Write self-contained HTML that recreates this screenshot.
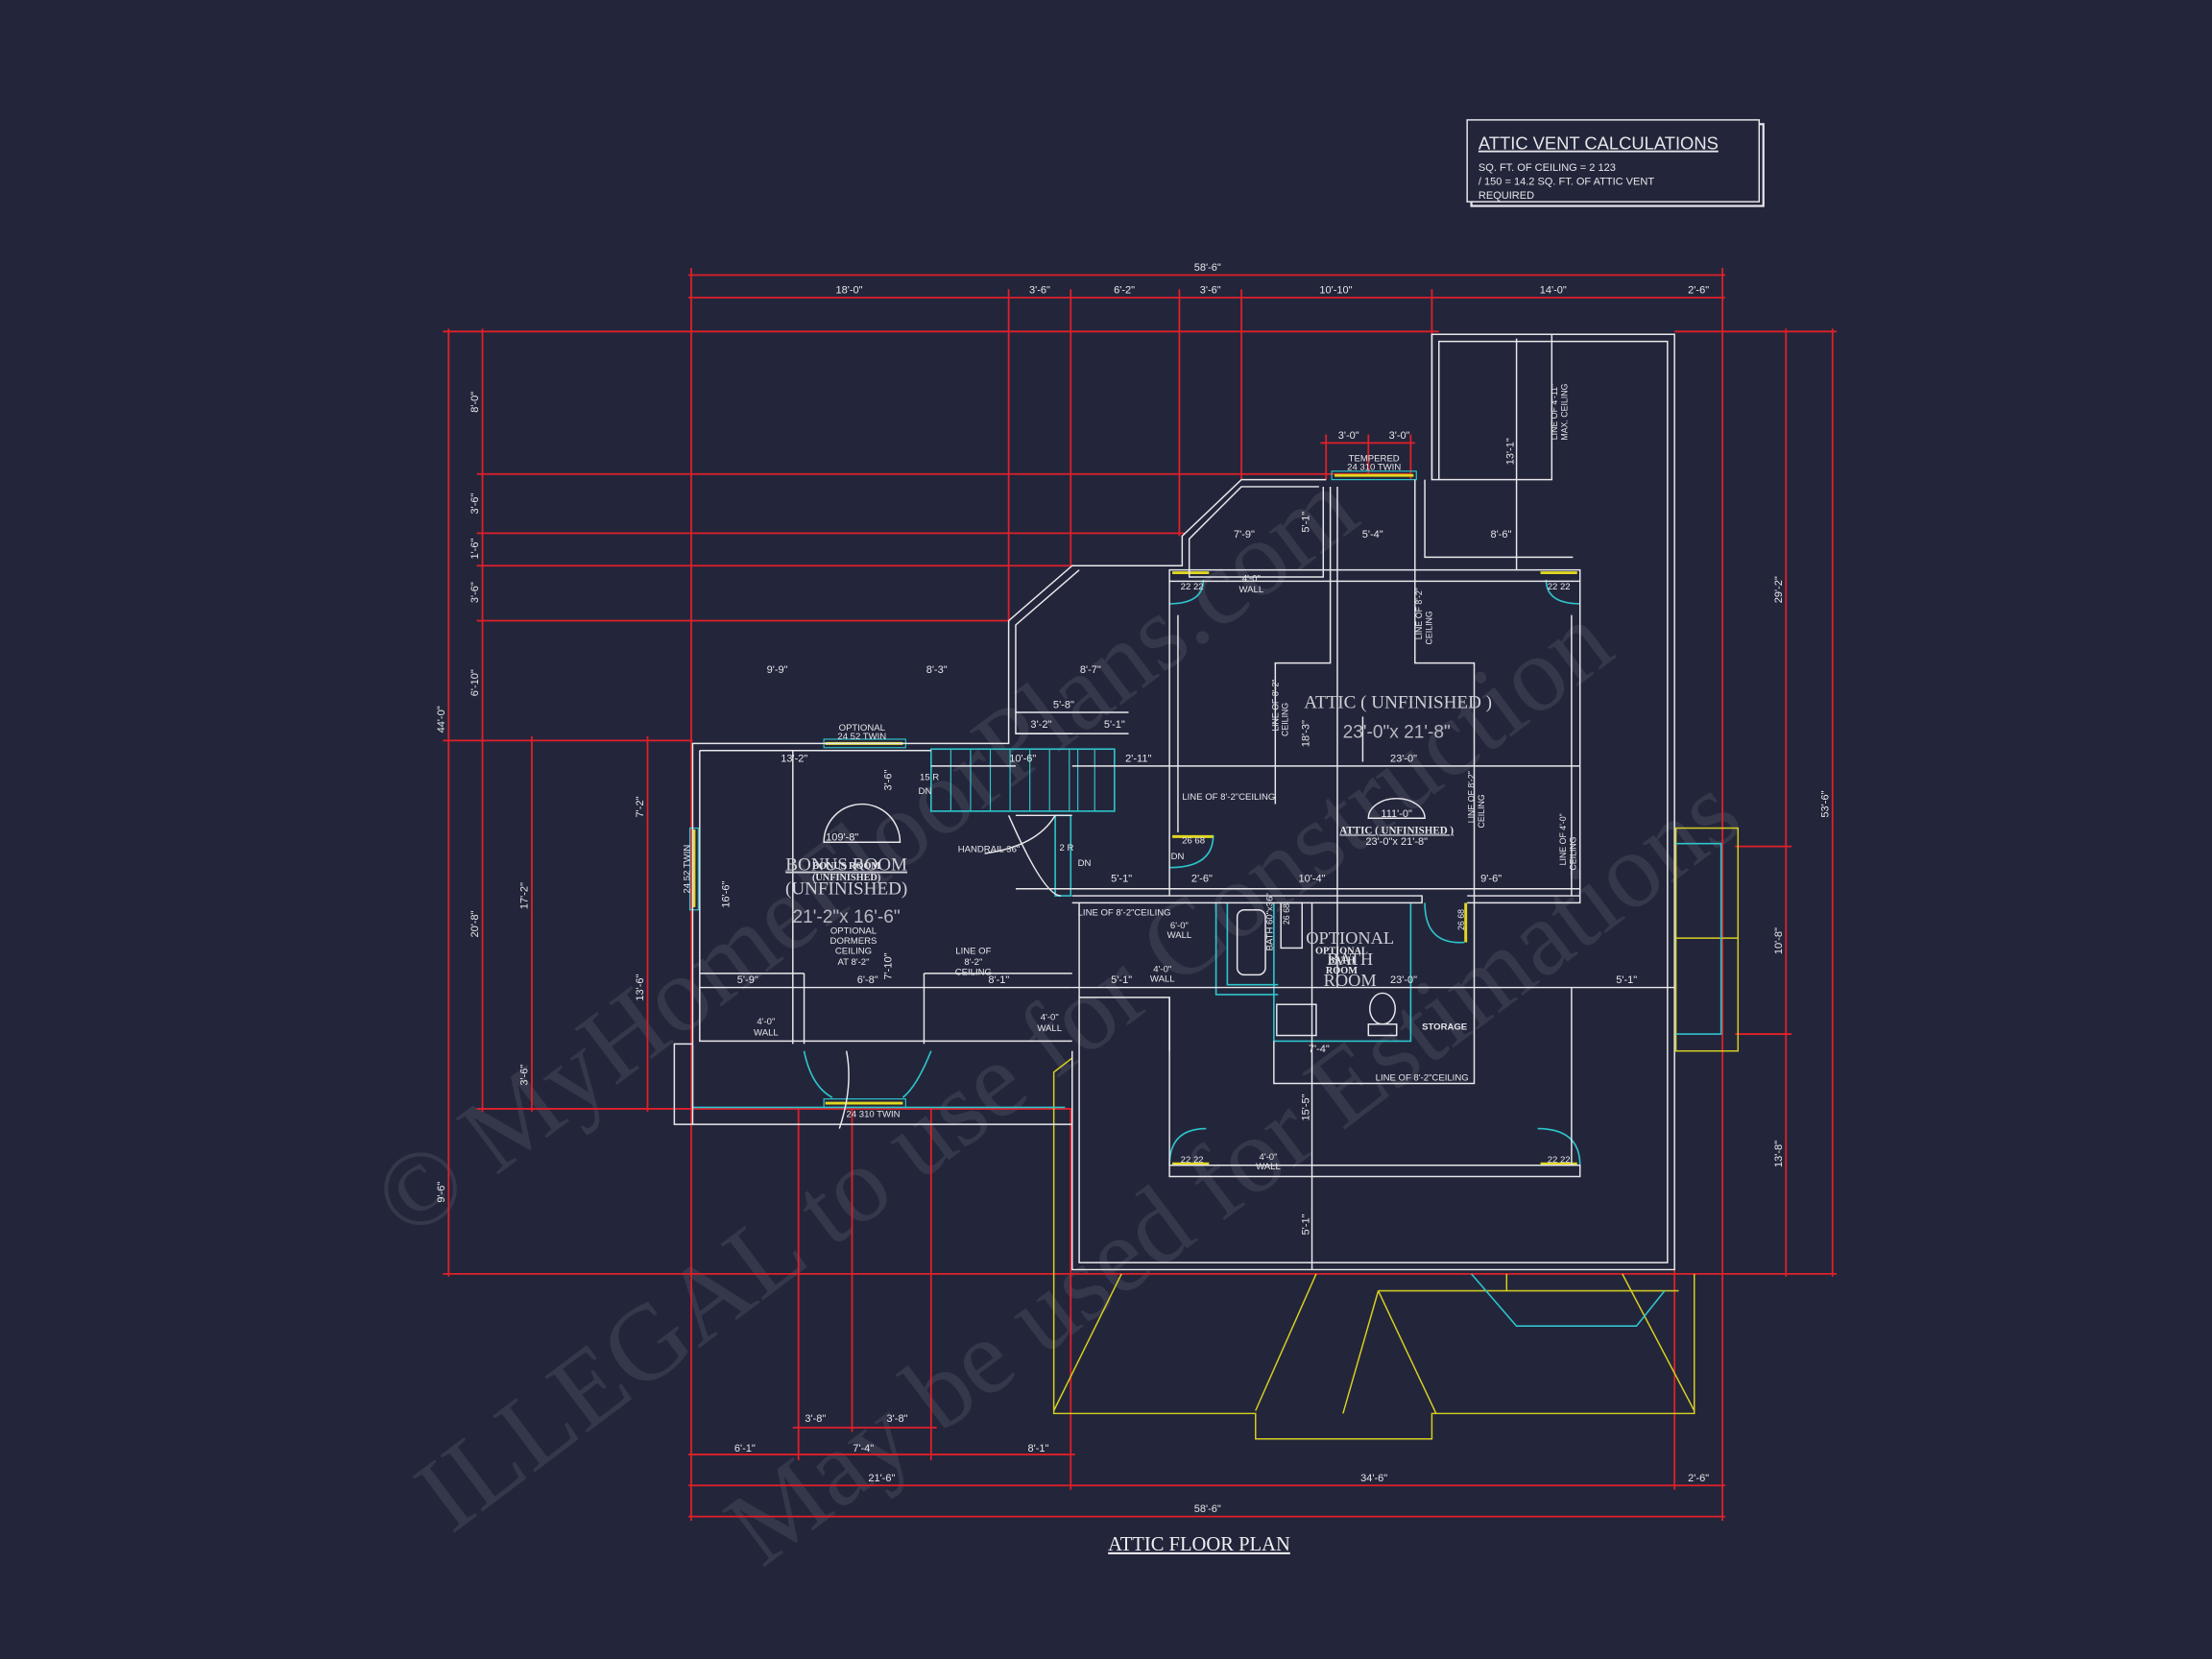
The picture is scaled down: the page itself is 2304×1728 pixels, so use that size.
<!DOCTYPE html>
<html><head><meta charset="utf-8"><style>
html,body{margin:0;padding:0;background:#23263a;}
svg{display:block}
text{font-family:"Liberation Sans",sans-serif;fill:#e6e6ea}
text.wm{font-family:"Liberation Serif",serif;fill:#ffffff}
</style></head><body>
<svg width="2304" height="1728" viewBox="0 0 1568 1176" xmlns="http://www.w3.org/2000/svg">
<rect width="1568" height="1176" fill="#23263a"/>
<!-- watermark -->
<g opacity="0.08">
<text class="wm" x="290" y="880" font-size="76" transform="rotate(-37 290 880)">© MyHomeFloorPlans.com</text>
<text class="wm" x="320" y="1088" font-size="76" transform="rotate(-37 320 1088)">ILLEGAL to use for Construction</text>
<text class="wm" x="540" y="1112" font-size="76" transform="rotate(-37 540 1112)">May be used for Estimations</text>
</g>
<!-- RED dimension lines -->
<g stroke="#e0202a" stroke-width="1.2" fill="none">
<line x1="488" y1="195" x2="1223" y2="195"/>
<line x1="488" y1="211" x2="1223" y2="211"/>
<line x1="490" y1="190" x2="490" y2="1078"/>
<line x1="1221" y1="190" x2="1221" y2="1078"/>
<line x1="715" y1="205" x2="715" y2="440"/>
<line x1="759" y1="205" x2="759" y2="401"/>
<line x1="836" y1="205" x2="836" y2="380"/>
<line x1="880" y1="205" x2="880" y2="340"/>
<line x1="1015" y1="205" x2="1015" y2="237"/>
<line x1="318" y1="233" x2="318" y2="905"/>
<line x1="342" y1="233" x2="342" y2="788"/>
<line x1="314" y1="235" x2="1020" y2="235"/>
<line x1="338" y1="336" x2="1000" y2="336"/>
<line x1="338" y1="378" x2="840" y2="378"/>
<line x1="338" y1="401" x2="760" y2="401"/>
<line x1="338" y1="440" x2="715" y2="440"/>
<line x1="314" y1="525" x2="491" y2="525"/>
<line x1="338" y1="786" x2="760" y2="786"/>
<line x1="314" y1="903" x2="1302" y2="903"/>
<line x1="377" y1="522" x2="377" y2="788"/>
<line x1="459" y1="522" x2="459" y2="788"/>
<line x1="1266" y1="233" x2="1266" y2="905"/>
<line x1="1299" y1="233" x2="1299" y2="905"/>
<line x1="1187" y1="235" x2="1302" y2="235"/>
<line x1="1230" y1="600" x2="1270" y2="600"/>
<line x1="1230" y1="733" x2="1270" y2="733"/>
<line x1="566" y1="786" x2="566" y2="1035"/>
<line x1="604" y1="786" x2="604" y2="1015"/>
<line x1="660" y1="786" x2="660" y2="1035"/>
<line x1="759" y1="786" x2="759" y2="1056"/>
<line x1="1187" y1="900" x2="1187" y2="1056"/>
<line x1="562" y1="1012" x2="664" y2="1012"/>
<line x1="488" y1="1031" x2="762" y2="1031"/>
<line x1="488" y1="1053" x2="1223" y2="1053"/>
<line x1="488" y1="1075" x2="1223" y2="1075"/>
<line x1="936" y1="314" x2="1003" y2="314"/>
<line x1="940" y1="308" x2="940" y2="340"/>
<line x1="1000" y1="308" x2="1000" y2="340"/>
<line x1="970" y1="308" x2="970" y2="336"/>
</g>
<!-- red dimension text -->
<g font-size="7.5">
<text x="856" y="192" text-anchor="middle">58'-6"</text>
<text x="602" y="208" text-anchor="middle">18'-0"</text>
<text x="737" y="208" text-anchor="middle">3'-6"</text>
<text x="797" y="208" text-anchor="middle">6'-2"</text>
<text x="858" y="208" text-anchor="middle">3'-6"</text>
<text x="947" y="208" text-anchor="middle">10'-10"</text>
<text x="1101" y="208" text-anchor="middle">14'-0"</text>
<text x="1204" y="208" text-anchor="middle">2'-6"</text>
<text x="956" y="311" text-anchor="middle">3'-0"</text>
<text x="992" y="311" text-anchor="middle">3'-0"</text>
<text x="578" y="1008" text-anchor="middle">3'-8"</text>
<text x="636" y="1008" text-anchor="middle">3'-8"</text>
<text x="528" y="1029" text-anchor="middle">6'-1"</text>
<text x="612" y="1029" text-anchor="middle">7'-4"</text>
<text x="736" y="1029" text-anchor="middle">8'-1"</text>
<text x="625" y="1050" text-anchor="middle">21'-6"</text>
<text x="974" y="1050" text-anchor="middle">34'-6"</text>
<text x="1204" y="1050" text-anchor="middle">2'-6"</text>
<text x="856" y="1072" text-anchor="middle">58'-6"</text>
<text transform="translate(315 510) rotate(-90)" text-anchor="middle">44'-0"</text>
<text transform="translate(339 285) rotate(-90)" text-anchor="middle">8'-0"</text>
<text transform="translate(339 357) rotate(-90)" text-anchor="middle">3'-6"</text>
<text transform="translate(339 389) rotate(-90)" text-anchor="middle">1'-6"</text>
<text transform="translate(339 420) rotate(-90)" text-anchor="middle">3'-6"</text>
<text transform="translate(339 484) rotate(-90)" text-anchor="middle">6'-10"</text>
<text transform="translate(339 655) rotate(-90)" text-anchor="middle">20'-8"</text>
<text transform="translate(315 845) rotate(-90)" text-anchor="middle">9'-6"</text>
<text transform="translate(374 635) rotate(-90)" text-anchor="middle">17'-2"</text>
<text transform="translate(374 762) rotate(-90)" text-anchor="middle">3'-6"</text>
<text transform="translate(456 572) rotate(-90)" text-anchor="middle">7'-2"</text>
<text transform="translate(456 700) rotate(-90)" text-anchor="middle">13'-6"</text>
<text transform="translate(1263 418) rotate(-90)" text-anchor="middle">29'-2"</text>
<text transform="translate(1296 570) rotate(-90)" text-anchor="middle">53'-6"</text>
<text transform="translate(1263 667) rotate(-90)" text-anchor="middle">10'-8"</text>
<text transform="translate(1263 818) rotate(-90)" text-anchor="middle">13'-8"</text>
</g>
<!-- YELLOW roof lines -->
<g stroke="#d8d020" stroke-width="1" fill="none">
<polyline points="760,750 747,760 747,1002 890,1002 890,1020 1015,1020 1015,1002 1201,1002 1201,903"/>
<line x1="795" y1="903" x2="747" y2="1000"/>
<line x1="933" y1="903" x2="890" y2="1000"/>
<polyline points="977,915 1018,1002"/>
<polyline points="977,915 1190,915"/>
<line x1="977" y1="915" x2="952" y2="1002"/>
<line x1="1150" y1="903" x2="1201" y2="1000"/>
<line x1="1068" y1="903" x2="1068" y2="915"/>
<rect x="1188" y="587" width="44" height="158"/>
<line x1="1188" y1="665" x2="1232" y2="665"/>
</g>
<!-- CYAN -->
<g stroke="#2ec4cc" stroke-width="1.1" fill="none">
<polyline points="1043,903 1075,940 1160,940 1180,915"/>
<rect x="660" y="531" width="130" height="44"/>
<g stroke-width="0.8">
<line x1="674" y1="531" x2="674" y2="575"/><line x1="688" y1="531" x2="688" y2="575"/>
<line x1="702" y1="531" x2="702" y2="575"/><line x1="716" y1="531" x2="716" y2="575"/>
<line x1="730" y1="531" x2="730" y2="575"/><line x1="744" y1="531" x2="744" y2="575"/>
<line x1="758" y1="531" x2="758" y2="575"/><line x1="764" y1="531" x2="764" y2="575"/>
<line x1="776" y1="531" x2="776" y2="575"/>
</g>
<rect x="748" y="578" width="11" height="57"/>
<polyline points="1188,598 1220,598 1220,733 1188,733"/>
<polyline points="862,640 862,705 906,705"/>
<polyline points="870,640 870,698 906,698"/>
<polyline points="903,640 903,738 1000,738 1000,640"/>
<polyline points="491,740 491,785 755,785"/>
<path d="M829,428 Q853,428 853,411"/>
<path d="M1120,428 Q1096,428 1096,411"/>
<path d="M829,615 Q860,615 860,592"/>
<path d="M1010,640 Q1010,670 1038,668"/>
<path d="M829,826 Q829,800 855,800"/>
<path d="M1120,826 Q1120,800 1090,800"/>
<path d="M570,745 Q575,770 590,778"/>
<path d="M660,745 Q650,770 640,778"/>
</g>
<!-- windows -->
<g stroke="#e0d820" stroke-width="2" fill="none">
<line x1="585" y1="527" x2="640" y2="527"/>
<line x1="492" y1="588" x2="492" y2="643"/>
<line x1="946" y1="337" x2="1002" y2="337"/>
<line x1="585" y1="782" x2="640" y2="782"/>
<line x1="831" y1="406" x2="857" y2="406"/>
<line x1="1092" y1="406" x2="1118" y2="406"/>
<line x1="831" y1="593" x2="860" y2="593"/>
<line x1="1039" y1="640" x2="1039" y2="668"/>
<line x1="831" y1="825" x2="857" y2="825"/>
<line x1="1092" y1="825" x2="1118" y2="825"/>
</g>
<g stroke="#2ec4cc" stroke-width="0.8" fill="none">
<rect x="584" y="524" width="58" height="6"/><rect x="489" y="587" width="6" height="58"/>
<rect x="944" y="334" width="60" height="6"/><rect x="584" y="779" width="58" height="6"/>
</g>
<!-- WHITE walls -->
<g stroke="#e8e8ec" stroke-width="1" fill="none">
<polyline points="1015,340 1015,237 1187,237 1187,900 760,900 760,745"/>
<polyline points="1020,340 1020,242 1182,242 1182,895 765,895 765,707 829,707 829,745"/>
<rect x="1015" y="237" width="85" height="103"/>
<line x1="1075" y1="240" x2="1075" y2="404"/>
<polyline points="1003,340 1003,404"/>
<polyline points="1010,340 1010,395 1115,395"/>
<polyline points="940,340 880,340 838,380 838,401 760,401 715,440 715,527 491,527 491,797 478,797 478,740 491,740"/>
<polyline points="935,345 880,345 843,382 843,409 938,409 938,345"/>
<polyline points="765,404 720,443 720,520 760,520"/>
<polyline points="496,532 496,738 760,738"/>
<line x1="496" y1="532" x2="660" y2="532"/>
<line x1="720" y1="505" x2="800" y2="505"/>
<line x1="720" y1="520" x2="800" y2="520"/>
<polyline points="760,745 760,797 491,797"/>
<rect x="829" y="404" width="291" height="8"/>
<line x1="829" y1="412" x2="829" y2="635"/>
<line x1="835" y1="436" x2="835" y2="590"/>
<line x1="1120" y1="412" x2="1120" y2="635"/>
<line x1="1114" y1="436" x2="1114" y2="635"/>
<line x1="760" y1="543" x2="1120" y2="543"/>
<line x1="760" y1="630" x2="1120" y2="630"/>
<polyline points="760,635 1008,635 1008,640 760,640"/>
<polyline points="1040,635 1120,635 1120,640 1040,640"/>
<polyline points="904,570 904,470 943,470 943,345"/>
<polyline points="948,345 948,700"/>
<polyline points="1003,404 1003,470 1045,470 1045,640"/>
<line x1="760" y1="700" x2="1187" y2="700"/>
<line x1="930" y1="640" x2="930" y2="900"/>
<polyline points="903,738 903,768 1045,768 1045,700"/>
<polyline points="1045,700 1045,640"/>
<rect x="829" y="826" width="291" height="8"/>
<line x1="1114" y1="700" x2="1114" y2="826"/>
<polyline points="765,707 765,640"/>
<polyline points="829,707 829,826"/>
<line x1="496" y1="690" x2="570" y2="690"/><line x1="570" y1="690" x2="570" y2="740"/>
<line x1="655" y1="690" x2="760" y2="690"/><line x1="655" y1="690" x2="655" y2="740"/>
<line x1="496" y1="700" x2="760" y2="700"/>
<line x1="720" y1="578" x2="760" y2="578"/>
<line x1="720" y1="630" x2="760" y2="630"/>
<line x1="562" y1="532" x2="562" y2="740"/>
<line x1="720" y1="543" x2="660" y2="543"/>
<line x1="966" y1="508" x2="966" y2="540"/>
<path d="M584,597 A27,27 0 0 1 638,597 Z"/>
<path d="M970,580 A20,14 0 0 1 1010,580 Z"/>
<rect x="877" y="645" width="20" height="46" rx="5"/>
<rect x="905" y="712" width="28" height="22"/>
<ellipse cx="980" cy="715" rx="9" ry="11"/>
<rect x="970" y="726" width="20" height="8"/>
<rect x="908" y="640" width="15" height="32"/>
<path d="M715,578 Q740,635 752,635"/>
<path d="M698,605 Q735,600 748,578"/>
<path d="M600,745 Q605,770 595,800"/>
</g>
<!-- white labels -->
<g font-size="6.5">
<text x="611" y="518" text-anchor="middle">OPTIONAL</text>
<text x="611" y="524" text-anchor="middle">24 52 TWIN</text>
<text x="974" y="327" text-anchor="middle">TEMPERED</text>
<text x="974" y="333" text-anchor="middle">24 310 TWIN</text>
<text x="619" y="792" text-anchor="middle">24 310 TWIN</text>
<text transform="translate(489 616) rotate(-90)" text-anchor="middle">24 52 TWIN</text>
<text x="845" y="418" text-anchor="middle">22 22</text>
<text x="1105" y="418" text-anchor="middle">22 22</text>
<text x="845" y="824" text-anchor="middle">22 22</text>
<text x="1105" y="824" text-anchor="middle">22 22</text>
<text x="846" y="598" text-anchor="middle">26 68</text>
<text x="887" y="412" text-anchor="middle">4'-0"</text><text x="887" y="420" text-anchor="middle">WALL</text>
<text x="899" y="822" text-anchor="middle">4'-0"</text><text x="899" y="829" text-anchor="middle">WALL</text>
<text x="543" y="726" text-anchor="middle">4'-0"</text><text x="543" y="734" text-anchor="middle">WALL</text>
<text x="744" y="723" text-anchor="middle">4'-0"</text><text x="744" y="731" text-anchor="middle">WALL</text>
<text x="824" y="689" text-anchor="middle">4'-0"</text><text x="824" y="696" text-anchor="middle">WALL</text>
<text x="836" y="658" text-anchor="middle">6'-0"</text><text x="836" y="665" text-anchor="middle">WALL</text>
<text x="605" y="662" text-anchor="middle">OPTIONAL</text>
<text x="605" y="669" text-anchor="middle">DORMERS</text>
<text x="605" y="676" text-anchor="middle">CEILING</text>
<text x="605" y="684" text-anchor="middle">AT 8'-2"</text>
<text x="690" y="676" text-anchor="middle">LINE OF</text>
<text x="690" y="684" text-anchor="middle">8'-2"</text>
<text x="690" y="691" text-anchor="middle">CEILING</text>
<text x="679" y="604">HANDRAIL 36"</text>
<text x="652" y="553">15 R</text><text x="651" y="563">DN</text>
<text x="751" y="603">2 R</text><text x="764" y="614">DN</text>
<text x="830" y="609">DN</text>
<text x="838" y="567">LINE OF 8'-2"CEILING</text>
<text x="764" y="649">LINE OF 8'-2"CEILING</text>
<text x="975" y="766">LINE OF 8'-2"CEILING</text>
<text x="1008" y="730" font-weight="bold">STORAGE</text>
<text x="878" y="690" transform="rotate(-90 882 670)">BATH 60"x36"</text>
</g>
<g font-size="7.5">
<text x="563" y="540" text-anchor="middle">13'-2"</text>
<text x="551" y="477" text-anchor="middle">9'-9"</text>
<text x="664" y="477" text-anchor="middle">8'-3"</text>
<text x="773" y="477" text-anchor="middle">8'-7"</text>
<text x="754" y="502" text-anchor="middle">5'-8"</text>
<text x="738" y="516" text-anchor="middle">3'-2"</text>
<text x="790" y="516" text-anchor="middle">5'-1"</text>
<text x="725" y="540" text-anchor="middle">10'-6"</text>
<text x="807" y="540" text-anchor="middle">2'-11"</text>
<text x="882" y="381" text-anchor="middle">7'-9"</text>
<text x="973" y="381" text-anchor="middle">5'-4"</text>
<text x="1064" y="381" text-anchor="middle">8'-6"</text>
<text x="995" y="540" text-anchor="middle">23'-0"</text>
<text x="795" y="625" text-anchor="middle">5'-1"</text>
<text x="852" y="625" text-anchor="middle">2'-6"</text>
<text x="930" y="625" text-anchor="middle">10'-4"</text>
<text x="1057" y="625" text-anchor="middle">9'-6"</text>
<text x="530" y="697" text-anchor="middle">5'-9"</text>
<text x="615" y="697" text-anchor="middle">6'-8"</text>
<text x="708" y="697" text-anchor="middle">8'-1"</text>
<text x="795" y="697" text-anchor="middle">5'-1"</text>
<text x="995" y="697" text-anchor="middle">23'-0"</text>
<text x="1153" y="697" text-anchor="middle">5'-1"</text>
<text x="935" y="746" text-anchor="middle">7'-4"</text>
<text x="597" y="596" text-anchor="middle">109'-8"</text>
<text x="990" y="579" text-anchor="middle">111'-0"</text>
<text transform="translate(517 634) rotate(-90)" text-anchor="middle">16'-6"</text>
<text transform="translate(632 553) rotate(-90)" text-anchor="middle">3'-6"</text>
<text transform="translate(632 685) rotate(-90)" text-anchor="middle">7'-10"</text>
<text transform="translate(928 370) rotate(-90)" text-anchor="middle">5'-1"</text>
<text transform="translate(928 520) rotate(-90)" text-anchor="middle">18'-3"</text>
<text transform="translate(928 785) rotate(-90)" text-anchor="middle">15'-5"</text>
<text transform="translate(928 868) rotate(-90)" text-anchor="middle">5'-1"</text>
<text transform="translate(1073 320) rotate(-90)" text-anchor="middle">13'-1"</text>
<text transform="translate(1104 292) rotate(-90)" text-anchor="middle" font-size="6">LINE OF 4'-11"</text>
<text transform="translate(1111 292) rotate(-90)" text-anchor="middle" font-size="6">MAX. CEILING</text>
<text transform="translate(1008 435) rotate(-90)" text-anchor="middle" font-size="6">LINE OF 8'-2"</text>
<text transform="translate(1015 445) rotate(-90)" text-anchor="middle" font-size="6">CEILING</text>
<text transform="translate(906 500) rotate(-90)" text-anchor="middle" font-size="6">LINE OF 8'-2"</text>
<text transform="translate(913 510) rotate(-90)" text-anchor="middle" font-size="6">CEILING</text>
<text transform="translate(1045 565) rotate(-90)" text-anchor="middle" font-size="6">LINE OF 8'-2"</text>
<text transform="translate(1052 575) rotate(-90)" text-anchor="middle" font-size="6">CEILING</text>
<text transform="translate(1110 595) rotate(-90)" text-anchor="middle" font-size="6">LINE OF 4'-0"</text>
<text transform="translate(1117 605) rotate(-90)" text-anchor="middle" font-size="6">CEILING</text>
<text transform="translate(914 648) rotate(-90)" text-anchor="middle" font-size="6">26 68</text>
<text transform="translate(1038 652) rotate(-90)" text-anchor="middle" font-size="6">26 68</text>
</g>
<!-- Room titles -->
<g>
<text x="600" y="617" font-size="13" text-anchor="middle" style="font-family:'Liberation Serif',serif;fill:#cfcfd6" text-decoration="underline">BONUS ROOM</text>
<text x="600" y="634" font-size="13" text-anchor="middle" style="font-family:'Liberation Serif',serif;fill:#cfcfd6">(UNFINISHED)</text>
<text x="600" y="616" font-size="7" text-anchor="middle" font-weight="bold" style="font-family:'Liberation Serif',serif">BONUS ROOM</text>
<text x="600" y="624" font-size="7" text-anchor="middle" font-weight="bold" style="font-family:'Liberation Serif',serif">(UNFINISHED)</text>
<text x="600" y="654" font-size="13" text-anchor="middle" style="fill:#b8b8c0">21'-2"x 16'-6"</text>
<text x="991" y="502" font-size="13" text-anchor="middle" style="font-family:'Liberation Serif',serif;fill:#cfcfd6">ATTIC ( UNFINISHED )</text>
<text x="990" y="523" font-size="13" text-anchor="middle" style="fill:#b8b8c0">23'-0"x 21'-8"</text>
<text x="990" y="591" font-size="7.5" text-anchor="middle" font-weight="bold" text-decoration="underline" style="font-family:'Liberation Serif',serif">ATTIC ( UNFINISHED )</text>
<text x="990" y="599" font-size="7.5" text-anchor="middle">23'-0"x 21'-8"</text>
<text x="957" y="669" font-size="12.5" text-anchor="middle" style="font-family:'Liberation Serif',serif;fill:#cfcfd6">OPTIONAL</text>
<text x="957" y="684" font-size="12.5" text-anchor="middle" style="font-family:'Liberation Serif',serif;fill:#cfcfd6">BATH</text>
<text x="957" y="699" font-size="12.5" text-anchor="middle" style="font-family:'Liberation Serif',serif;fill:#cfcfd6">ROOM</text>
<text x="951" y="676" font-size="7" text-anchor="middle" font-weight="bold" style="font-family:'Liberation Serif',serif">OPTIONAL</text>
<text x="951" y="683" font-size="7" text-anchor="middle" font-weight="bold" style="font-family:'Liberation Serif',serif">BATH</text>
<text x="951" y="690" font-size="7" text-anchor="middle" font-weight="bold" style="font-family:'Liberation Serif',serif">ROOM</text>
<text x="850" y="1099" font-size="14" text-anchor="middle" style="font-family:'Liberation Serif',serif;fill:#f0f0f4" text-decoration="underline">ATTIC FLOOR PLAN</text>
</g>
<!-- Attic vent box -->
<rect x="1043" y="88" width="207" height="58" fill="none" stroke="#e8e8ec" stroke-width="1.5"/>
<rect x="1040" y="85" width="207" height="58" fill="#23263a" stroke="#e8e8ec" stroke-width="1"/>
<text x="1048" y="106" font-size="12.5" text-decoration="underline">ATTIC VENT CALCULATIONS</text>
<text x="1048" y="121" font-size="7.5">SQ. FT. OF CEILING = 2 123</text>
<text x="1048" y="131" font-size="7.5">/ 150 = 14.2 SQ. FT. OF ATTIC VENT</text>
<text x="1048" y="141" font-size="7.5">REQUIRED</text>
</svg>
</body></html>
